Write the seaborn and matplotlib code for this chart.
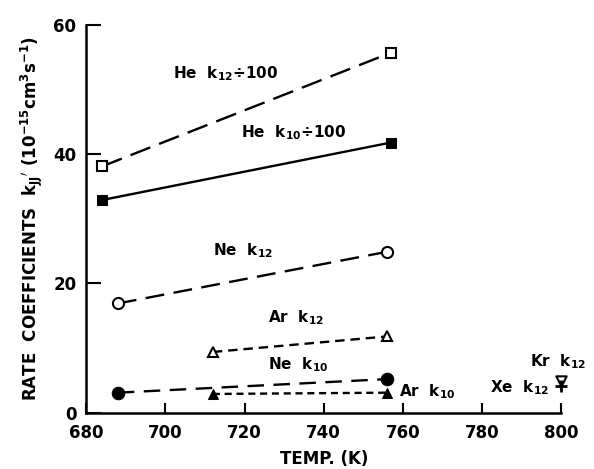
import matplotlib
matplotlib.use("Agg")
import matplotlib.pyplot as plt
import seaborn as sns

# values (temperature in K, rate coefficient)
he_k12_t = [684, 757]
he_k12 = [38.1, 55.7]
he_k10_t = [684, 757]
he_k10 = [32.9, 41.8]
ne_k12_t = [688, 756]
ne_k12 = [16.9, 24.9]
ar_k12_t = [712, 756]
ar_k12 = [9.4, 11.8]
ne_k10_t = [688, 756]
ne_k10 = [3.1, 5.2]
ar_k10_t = [712, 756]
ar_k10 = [2.9, 3.1]
kr_k12_t = [800]
kr_k12 = [4.9]
xe_k12_t = [800]
xe_k12 = [4.1]

x_ticks = [680, 700, 720, 740, 760, 780, 800]
y_ticks = [0, 20, 40, 60]

sns.set_style("ticks")
plt.rcParams['font.family'] = ['DejaVu Sans']
plt.rcParams['font.weight'] = 'bold'
plt.rcParams['mathtext.default'] = 'bf'
for key in ['text.color', 'axes.labelcolor', 'xtick.color', 'ytick.color', 'axes.edgecolor']:
    plt.rcParams[key] = 'black'

fig = plt.figure(figsize=(5.94, 4.69), dpi=100)
ax = fig.add_axes([0.145, 0.12, 0.80, 0.827])

lw = 1.7
ms = 7
# He k12 / 100 : open squares, long dashes
sns.lineplot(x=he_k12_t, y=he_k12, ax=ax, color='black', lw=lw, marker='s', ms=ms,
             mfc='white', mec='black', mew=1.5, linestyle=(0, (9, 4)), clip_on=False)
# He k10 / 100 : filled squares, solid
sns.lineplot(x=he_k10_t, y=he_k10, ax=ax, color='black', lw=lw, marker='s', ms=ms,
             mfc='black', mec='black', linestyle='-', clip_on=False)
# Ne k12 : open circles
sns.lineplot(x=ne_k12_t, y=ne_k12, ax=ax, color='black', lw=lw, marker='o', ms=8,
             mfc='white', mec='black', mew=1.5, linestyle=(0, (8, 4)), clip_on=False)
# Ar k12 : open triangles, short dashes
sns.lineplot(x=ar_k12_t, y=ar_k12, ax=ax, color='black', lw=lw, marker='^', ms=ms,
             mfc='white', mec='black', mew=1.5, linestyle=(0, (4, 2.5)), clip_on=False)
# Ne k10 : filled circles
sns.lineplot(x=ne_k10_t, y=ne_k10, ax=ax, color='black', lw=lw, marker='o', ms=9,
             mfc='black', mec='black', linestyle=(0, (7, 4)), clip_on=False)
# Ar k10 : filled triangles
sns.lineplot(x=ar_k10_t, y=ar_k10, ax=ax, color='black', lw=lw, marker='^', ms=ms,
             mfc='black', mec='black', linestyle=(0, (3, 2)), clip_on=False)
# Kr k12, Xe k12 single points at 800 K
sns.scatterplot(x=kr_k12_t, y=kr_k12, ax=ax, marker='v', s=55, facecolor='white',
                edgecolor='black', linewidth=1.5, clip_on=False, zorder=5)
sns.scatterplot(x=xe_k12_t, y=xe_k12, ax=ax, marker='+', s=70, color='black',
                linewidth=2, clip_on=False, zorder=5)

fs = 11
ax.text(702, 52.5, r"He  k$_{12}$$\div$100", fontsize=fs, va='center')
ax.text(719, 43.3, r"He  k$_{10}$$\div$100", fontsize=fs, va='center')
ax.text(712, 25.0, r"Ne  k$_{12}$", fontsize=fs, va='center')
ax.text(726, 14.7, r"Ar  k$_{12}$", fontsize=fs, va='center')
ax.text(726, 7.4, r"Ne  k$_{10}$", fontsize=fs, va='center')
ax.text(759, 3.3, r"Ar  k$_{10}$", fontsize=fs, va='center')
ax.text(782, 3.9, r"Xe  k$_{12}$", fontsize=fs, va='center')
ax.text(792, 7.9, r"Kr  k$_{12}$", fontsize=fs, va='center')

ax.set_xlim(680, 800)
ax.set_ylim(0, 60)
ax.set_xticks(x_ticks)
ax.set_yticks(y_ticks)
ax.set_xticklabels([str(v) for v in x_ticks], fontsize=12, fontweight='bold')
ax.set_yticklabels([str(v) for v in y_ticks], fontsize=12, fontweight='bold')
ax.tick_params(axis='x', direction='in', length=7, width=1.5, pad=8)
ax.tick_params(axis='y', direction='in', length=11, width=1.5, pad=7)
sns.despine(ax=ax)
for s in ['left', 'bottom']:
    ax.spines[s].set_linewidth(1.8)

ax.set_xlabel("TEMP. (K)", fontsize=12, fontweight='bold', labelpad=6)
ax.set_ylabel(r"RATE  COEFFICIENTS  k$_{JJ}$$'$ (10$^{-15}$cm$^{3}$s$^{-1}$)",
              fontsize=12, fontweight='bold', labelpad=6)

fig.savefig("out.png", dpi=100)
